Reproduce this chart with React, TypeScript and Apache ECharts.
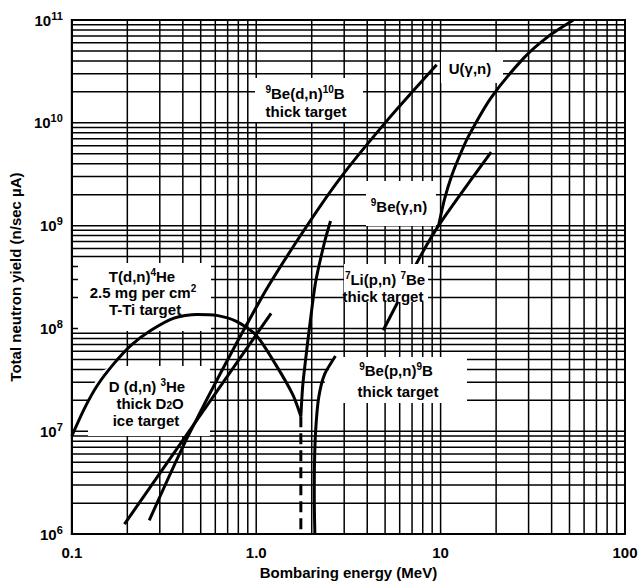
import React, { useEffect, useRef } from 'react';
import * as echarts from 'echarts';

// Axis ticks
const xTickLabels: Record<string, string> = { '-1': '0.1', '0': '1.0', '1': '10', '2': '100' };
const xMin = 0.1;
const xMax = 100;
const yMin = 1e6;
const yMax = 1e11;

// log grid structure
const decadeStartsX = [0.1, 1, 10];
const decadeStartsY = [1e6, 1e7, 1e8, 1e9, 1e10];
const gridMultipliers = [1, 2, 3, 4, 5, 6, 7, 8, 9];

// T(d,n)4He, 2.5 mg per cm2 T-Ti target
const tdnEnergy = [0.1, 0.1175, 0.138, 0.17, 0.21, 0.269, 0.358, 0.476, 0.61, 0.781, 1.0, 1.281, 1.581, 1.746];
const tdnYield = [9.0e6, 1.69e7, 2.82e7, 4.6e7, 6.9e7, 9.6e7, 1.26e8, 1.37e8, 1.34e8, 1.17e8, 8.6e7, 4.4e7, 2.26e7, 1.4e7];

// 7Li(p,n)7Be thick target
const liEnergy = [1.746, 1.789, 1.857, 1.951, 2.102, 2.35, 2.53];
const liYield = [1.4e7, 2.82e7, 5.15e7, 1.07e8, 2.86e8, 6.97e8, 1.11e9];
// dashed extension below
const liDashEnergy = [1.746, 1.746];
const liDashYield = [1.4e7, 1e6];

// 9Be(p,n)9B thick target
const bepnEnergy = [2.08, 2.065, 2.07, 2.1, 2.18, 2.35, 2.69];
const bepnYield = [1.0e6, 2.28e6, 4.75e6, 1.01e7, 2.11e7, 3.6e7, 5.4e7];

// D(d,n)3He thick D2O ice target
const ddnEnergy = [0.193, 1.204];
const ddnYield = [1.25e6, 1.4e8];

// 9Be(d,n)10B thick target
const bednEnergy = [0.263, 0.431, 1.064, 1.735, 2.83, 5.19, 9.52];
const bednYield = [1.36e6, 9.27e6, 1.96e8, 7.97e8, 2.84e9, 1.08e10, 3.67e10];

// 9Be(gamma,n)
const begnEnergy = [4.88, 5.8, 7.25, 9.75, 18.8];
const begnYield = [9.6e7, 1.75e8, 4.0e8, 1.0e9, 5.18e9];

// U(gamma,n)
const ugnEnergy = [9.75, 10.51, 11.46, 12.65, 14.15, 18.8, 28.3, 38.1, 52.5];
const ugnYield = [1.0e9, 1.82e9, 3.03e9, 4.73e9, 7.38e9, 1.76e10, 4.28e10, 6.86e10, 1.0e11];

const FONT = '"Liberation Sans", Arial, Helvetica, sans-serif';

export default function App() {
  const ref = useRef<HTMLDivElement>(null);

  useEffect(() => {
    if (!ref.current) return;
    const chart = echarts.init(ref.current, null, { renderer: 'svg' });

    const xGrid = decadeStartsX.flatMap((d) => gridMultipliers.map((m) => d * m)).filter((v) => v > xMin * 1.0001);
    const yGrid = decadeStartsY.flatMap((d) => gridMultipliers.map((m) => d * m)).filter((v) => v > yMin * 1.0001);

    const pairs = (xs: number[], ys: number[]) => xs.map((x, i) => [x, ys[i]]);

    const curve = (name: string, xs: number[], ys: number[], extra: any = {}) => ({
      type: 'line',
      name,
      data: pairs(xs, ys),
      showSymbol: false,
      symbol: 'none',
      silent: true,
      z: 3,
      lineStyle: { color: '#000', width: 3, ...(extra.lineStyle || {}) },
      smooth: extra.smooth ?? 0.25,
    });

    const gridSeries = (vertical: boolean) => ({
      type: 'custom',
      silent: true,
      z: 1,
      data: vertical ? xGrid.map((v) => [v, yMin]) : yGrid.map((v) => [xMin, v]),
      renderItem: (_p: any, api: any) => {
        const a = vertical ? api.coord([api.value(0), yMin]) : api.coord([xMin, api.value(1)]);
        const b = vertical ? api.coord([api.value(0), yMax]) : api.coord([xMax, api.value(1)]);
        return {
          type: 'line',
          shape: { x1: a[0], y1: a[1], x2: b[0], y2: b[1] },
          style: { stroke: '#000', lineWidth: 1.5 },
        };
      },
    });

    const supRich = {
      s: { fontSize: 10, fontWeight: 'bold', fontFamily: FONT, verticalAlign: 'top', lineHeight: 10, fill: '#000' },
      b: { fontSize: 10, fontWeight: 'bold', fontFamily: FONT, verticalAlign: 'bottom', lineHeight: 10, fill: '#000' },
    };

    const label = (text: string, x: number, y: number, lh = 16) => ({
      type: 'text',
      x,
      y,
      z: 5,
      silent: true,
      style: {
        text,
        fill: '#000',
        fontSize: 15,
        fontWeight: 'bold',
        fontFamily: FONT,
        align: 'center',
        verticalAlign: 'middle',
        lineHeight: lh,
        rich: supRich,
      },
    });

    const box = (x: number, y: number, w: number, h: number, z = 2) => ({
      type: 'rect',
      z,
      silent: true,
      shape: { x, y, width: w, height: h },
      style: { fill: '#fff' },
    });

    const poly = (points: number[][], z = 2) => ({
      type: 'polygon',
      z,
      silent: true,
      shape: { points },
      style: { fill: '#fff' },
    });

    chart.setOption({
      animation: false,
      backgroundColor: '#fff',
      grid: {
        left: 67,
        right: 16,
        top: 20,
        bottom: 48,
        show: true,
        borderColor: '#000',
        borderWidth: 2,
        backgroundColor: '#fff',
      },
      xAxis: {
        type: 'log',
        logBase: 10,
        min: xMin,
        max: xMax,
        splitLine: { show: false },
        axisTick: { show: false },
        axisLine: { show: true, lineStyle: { color: '#000', width: 2 } },
        axisLabel: {
          color: '#000',
          fontSize: 15,
          fontWeight: 'bold',
          fontFamily: FONT,
          margin: 11,
          formatter: (v: number) => xTickLabels[String(Math.round(Math.log10(v)))] ?? '',
        },
        name: 'Bombaring energy (MeV)',
        nameLocation: 'middle',
        nameGap: 30,
        nameTextStyle: { color: '#000', fontSize: 15, fontWeight: 'bold', fontFamily: FONT },
      },
      yAxis: {
        type: 'log',
        logBase: 10,
        min: yMin,
        max: yMax,
        splitLine: { show: false },
        axisTick: { show: false },
        axisLine: { show: true, lineStyle: { color: '#000', width: 2 } },
        axisLabel: {
          color: '#000',
          margin: 9,
          formatter: (v: number) => `{b|10}{s|${Math.round(Math.log10(v))}}`,
          rich: {
            b: { fontSize: 15, fontWeight: 'bold', fontFamily: FONT, lineHeight: 20, fill: '#000' },
            s: { fontSize: 11, fontWeight: 'bold', fontFamily: FONT, lineHeight: 10, verticalAlign: 'top', fill: '#000' },
          },
        },
        name: 'Total neutron yield (n/sec \u00b5A)',
        nameLocation: 'middle',
        nameGap: 42,
        nameTextStyle: { color: '#000', fontSize: 15, fontWeight: 'bold', fontFamily: FONT },
      },
      series: [
        gridSeries(true),
        gridSeries(false),
        curve('T(d,n)4He', tdnEnergy, tdnYield),
        curve('7Li(p,n)7Be', liEnergy, liYield),
        curve('7Li(p,n)7Be dashed', liDashEnergy, liDashYield, { smooth: false, lineStyle: { type: [11, 6] } }),
        curve('9Be(p,n)9B', bepnEnergy, bepnYield),
        curve('D(d,n)3He', ddnEnergy, ddnYield, { smooth: false }),
        curve('9Be(d,n)10B', bednEnergy, bednYield),
        curve('9Be(γ,n)', begnEnergy, begnYield),
        curve('U(γ,n)', ugnEnergy, ugnYield),
      ],
      graphic: [
        box(255, 78, 108, 44),
        box(441, 52, 62, 31),
        box(366, 181, 70, 45),
        box(344, 264, 84, 38, 4),
        poly([[333, 357], [467, 357], [467, 403], [318, 403]]),
        box(78, 263, 133, 68),
        poly([[88, 436], [88, 396], [100, 372], [112, 366], [210, 366], [210, 436]]),
        label('{s|9}Be(d,n){s|10}B', 305, 93, 18),
        label('thick target', 306, 111),
        label('U(\u03b3,n)', 470, 68),
        label('{s|9}Be(\u03b3,n)', 399, 206, 18),
        label('{s|7}Li(p,n) {s|7}Be', 385, 279, 18),
        label('thick target', 383, 296),
        label('{s|9}Be(p,n){s|9}B', 396, 370, 18),
        label('thick target', 398, 391),
        label('T(d,n){s|4}He', 142, 276, 18),
        label('2.5 mg per cm{s|2}', 143, 292, 18),
        label('T-Ti target', 145, 309),
        label('D (d,n) {s|3}He', 147, 386, 18),
        label('thick D{b|2}O', 150, 403, 15),
        label('ice target', 146, 420),
      ],
    });

    return () => chart.dispose();
  }, []);

  return (
    <div
      ref={ref}
      style={{ position: 'fixed', left: 0, top: 0, width: 641, height: 585, background: '#fff' }}
    />
  );
}
